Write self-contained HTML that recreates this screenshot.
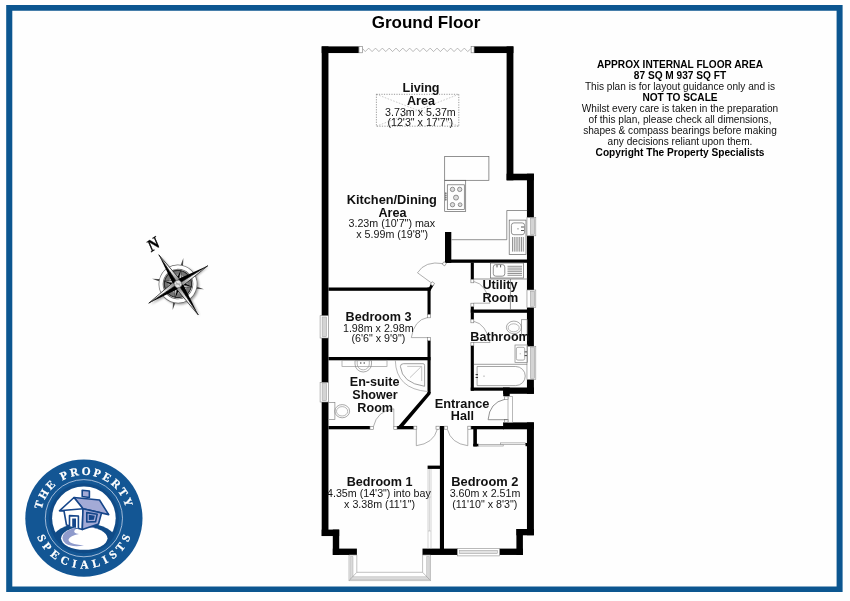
<!DOCTYPE html>
<html><head><meta charset="utf-8">
<style>
html,body{margin:0;padding:0;background:#fff;}
body{width:850px;height:601px;overflow:hidden;}
svg{display:block;}
text{font-family:"Liberation Sans",sans-serif;fill:#111;}
.b{font-weight:bold;font-size:12.6px;text-anchor:middle;}
.d{font-size:10.7px;text-anchor:middle;fill:#151515;}
.n{font-size:10.1px;text-anchor:middle;fill:#111;}
.nb{font-size:10.15px;font-weight:bold;text-anchor:middle;fill:#000;}
.w{fill:#000;}
.t{fill:none;stroke:#646464;stroke-width:0.7;}
.dr .t{stroke:#858585;stroke-width:0.65}
.j{fill:#fff;stroke:#777;stroke-width:0.6;}
.win{fill:#e4e4e4;stroke:#888;stroke-width:0.6;}
</style></head><body>
<svg width="850" height="601" viewBox="0 0 850 601" style="will-change:transform;transform:translateZ(0)">
<rect width="850" height="601" fill="#fefefe"/>
<!-- frame -->
<path fill="#0c5690" fill-rule="evenodd" d="M6.2 5 H842.6 V592 H6.2Z M12.3 10.8 V586.5 H836.6 V10.8Z"/>

<!-- title -->
<text x="426" y="28.3" style="font-weight:bold;font-size:17px;text-anchor:middle;fill:#000">Ground Floor</text>

<!-- WALLS -->
<g class="w" id="walls">
<!-- outer -->
<rect x="321.7" y="46.4" width="6.75" height="489.6"/>
<rect x="321.7" y="46.4" width="37.1" height="6.65"/>
<rect x="474" y="46.4" width="39.4" height="6.65"/>
<rect x="506.6" y="46.4" width="6.8" height="133.9"/>
<rect x="506.6" y="173.7" width="27.3" height="6.6"/>
<rect x="526.95" y="173.7" width="6.95" height="220.1"/>
<rect x="470.75" y="387.5" width="33" height="3.2"/><rect x="503.2" y="387.5" width="30.7" height="6.3"/>
<rect x="503.2" y="387.5" width="6.5" height="8.7"/>
<rect x="503.1" y="422.4" width="30.8" height="6.9"/>
<rect x="526.95" y="422.4" width="6.95" height="112.8"/>
<rect x="516.4" y="529" width="17.5" height="6.3"/>
<rect x="516.4" y="529" width="6.5" height="25.95"/>
<rect x="499.4" y="548.6" width="23.5" height="6.35"/>
<rect x="422.5" y="548.6" width="35" height="6.35"/>
<rect x="321.7" y="529.6" width="17.5" height="6.45"/>
<rect x="332.8" y="529.6" width="6.4" height="25.35"/>
<rect x="332.8" y="548.6" width="24.1" height="6.35"/>
<!-- internal -->
<rect x="445" y="232" width="6.3" height="30.8"/>
<rect x="445" y="259.5" width="82.6" height="3.3"/>
<rect x="470.75" y="262.5" width="3.1" height="17"/>
<rect x="470.75" y="306.5" width="3.1" height="6"/>
<rect x="470.75" y="309.5" width="57" height="3.3"/>
<rect x="470.75" y="312.5" width="3.1" height="7"/>
<rect x="470.75" y="345.5" width="3.1" height="45.2"/>
<rect x="328.5" y="287.5" width="102" height="3.3"/>
<polygon points="427.6,290.5 430.6,290.5 433.8,285 431,283.4"/>
<rect x="427.5" y="287.5" width="3.1" height="27"/>
<rect x="427.5" y="340.5" width="3.1" height="52.5"/>
<rect x="328.5" y="357" width="102" height="3.3"/>
<polygon points="427.5,392 430.6,392 430.6,394 402.3,427.5 397.3,427.5 427.5,392.6"/>
<rect x="328.5" y="426" width="41.5" height="3.3"/>
<rect x="397" y="426" width="16.8" height="3.3"/>
<rect x="439.9" y="426" width="4.1" height="123.2"/>
<rect x="470.9" y="426" width="33" height="3.3"/>
<rect x="427.6" y="465.6" width="13" height="3.3"/>
<rect x="473.3" y="429" width="3.6" height="17.4"/><rect x="473.3" y="443.8" width="5.3" height="2.6"/>
</g>

<!-- bifold door -->
<rect class="j" x="359" y="46.6" width="3.5" height="6.2"/>
<rect class="j" x="471.1" y="46.6" width="3" height="6.2"/>
<polyline id="zig" fill="none" stroke="#999" stroke-width="0.68" stroke-linejoin="miter" points="362.70,48.6 365.25,51.6 368.70,48.1 372.08,51.6 375.53,48.1 378.91,51.6 382.36,48.1 385.74,51.6 389.19,48.1 392.57,51.6 396.02,48.1 399.40,51.6 402.85,48.1 406.23,51.6 409.68,48.1 413.06,51.6 416.51,48.1 419.89,51.6 423.34,48.1 426.72,51.6 430.17,48.1 433.55,51.6 437.00,48.1 440.38,51.6 443.83,48.1 447.21,51.6 450.66,48.1 454.04,51.6 457.49,48.1 460.87,51.6 464.32,48.1 467.70,51.6 470.90,48.6"/>

<!-- skylight dotted -->
<path d="M376.4 94.3 L458.8 126.2 M458.8 94.3 L376.4 126.2" fill="none" stroke="#a8a8a8" stroke-width="0.6" stroke-dasharray="1.6 1.4"/>
<rect x="376.4" y="94.3" width="82.4" height="31.9" fill="none" stroke="#707070" stroke-width="0.7" stroke-dasharray="1.2 1.3"/>

<!-- kitchen island + hob -->
<rect class="t" x="444.7" y="156.4" width="44.2" height="23.9" fill="#fff"/>
<rect class="t" x="444.7" y="180.3" width="21" height="31.1"/>
<rect class="t" x="447.3" y="184.8" width="17" height="24.7"/>
<g fill="#ddd" stroke="#555" stroke-width="0.6">
<circle cx="452.5" cy="189.4" r="2.2"/><circle cx="459.7" cy="189.4" r="2.2"/>
<circle cx="456" cy="197.6" r="2.5"/>
<circle cx="452.5" cy="204.7" r="2.2"/><circle cx="460.1" cy="204.7" r="1.9"/>
</g>
<path class="t" d="M445.8 192 v9 M446.6 193.5h-1.6 M446.6 195.5h-1.6 M446.6 197.5h-1.6 M446.6 199.5h-1.6"/>
<!-- counter L -->
<path class="t" stroke="#8c8c8c" d="M451.5 239.7 H506.8 V210.5 H527.2"/>
<!-- kitchen sink -->
<rect class="t" x="509.2" y="220.1" width="16.8" height="34.3" fill="#fff"/>
<rect class="t" x="511.4" y="222.9" width="13.2" height="11.8" rx="2.5"/>
<path class="t" stroke-width="0.5" d="M512.5 237v14.6 M514.3 237v14.6 M516.1 237v14.6 M517.9 237v14.6 M519.7 237v14.6 M521.5 237v14.6 M523.3 237v14.6"/>
<path d="M521 227h3 M521 230.5h3" stroke="#444" stroke-width="0.9"/>
<circle cx="518" cy="228.8" r="0.6" fill="#555"/>

<!-- utility sink -->
<rect class="t" x="490.5" y="263" width="33" height="15" fill="#fff"/>
<rect class="t" x="493.3" y="264.6" width="11.5" height="11.6" rx="2.5"/>
<path class="t" stroke-width="0.5" d="M507.5 266.3h14.5 M507.5 268.1h14.5 M507.5 269.9h14.5 M507.5 271.7h14.5 M507.5 273.5h14.5 M507.5 275.3h14.5"/>
<path d="M497 265v2.4 M500.6 265v2.4" stroke="#444" stroke-width="0.9"/>
<path class="t" stroke="#8a8a8a" d="M473.8 279 H527.4 M510.4 279 V309.5"/>

<!-- windows -->
<g id="wins">
<rect x="527" y="217.4" width="8.8" height="18.4" fill="#fff" stroke="#8a8a8a" stroke-width="0.6"/><rect x="530.3" y="218.6" width="4.4" height="16.0" fill="#d4d4d4" stroke="#9a9a9a" stroke-width="0.5"/>
<rect x="527" y="290" width="8.8" height="17.5" fill="#fff" stroke="#8a8a8a" stroke-width="0.6"/><rect x="530.3" y="291.2" width="4.4" height="15.1" fill="#d4d4d4" stroke="#9a9a9a" stroke-width="0.5"/>
<rect x="527" y="346.3" width="8.8" height="33.2" fill="#fff" stroke="#8a8a8a" stroke-width="0.6"/><rect x="530.3" y="347.5" width="4.4" height="30.8" fill="#d4d4d4" stroke="#9a9a9a" stroke-width="0.5"/>
<rect x="320.1" y="315.7" width="8.6" height="22.3" fill="#fff" stroke="#8a8a8a" stroke-width="0.6"/><rect x="322.1" y="317.0" width="4.5" height="19.7" fill="#d4d4d4" stroke="#9a9a9a" stroke-width="0.5"/>
<rect x="320.1" y="382.4" width="8.6" height="19.6" fill="#fff" stroke="#8a8a8a" stroke-width="0.6"/><rect x="322.1" y="383.7" width="4.5" height="17.0" fill="#d4d4d4" stroke="#9a9a9a" stroke-width="0.5"/>
<rect x="457.5" y="548.3" width="41.9" height="7.6" fill="#fff" stroke="#8a8a8a" stroke-width="0.6"/>
<rect x="459.6" y="550.3" width="37.8" height="3.4" fill="#e2e2e2" stroke="#9a9a9a" stroke-width="0.5"/>
</g>

<!-- bay window -->
<g stroke="#8f8f8f" stroke-width="0.55">
<path d="M349 555 V580.6 H430.5 V555 H422.6 V572.3 H356.8 V555Z" fill="#fff"/>
<path d="M350.2 556.5 V579.5 H429.4 V556.5 H426.6 V576.7 H353 V556.5Z" fill="#dadada" stroke="#a5a5a5" stroke-width="0.45"/>
<path d="M349 580.6 L356.8 572.3 M430.5 580.6 L422.6 572.3" fill="none"/>
</g>
<!-- wardrobe bed1 -->
<g fill="none" stroke="#aaa" stroke-width="0.5">
<path d="M428 469 V549 M431 469 V549"/>
<path d="M429.4 469 V492 M429.4 497 V531"/>
<path d="M428 492 h2.8 M428 497h2.8 M428 531h2.8"/>
</g>
<!-- closet bed2 -->
<g fill="#fff" stroke="#888" stroke-width="0.6">
<rect x="478.7" y="444.3" width="24.5" height="1.7"/>
<rect x="500.6" y="442.9" width="25" height="1.7"/>
</g>
<rect x="525.5" y="443" width="2" height="3.2" fill="#000"/>

<!-- front door -->
<rect x="508" y="396.3" width="4.4" height="26.1" fill="#fff" stroke="#8a8a8a" stroke-width="0.6"/>
<rect class="j" x="504.6" y="396.8" width="3.4" height="2.6"/>
<rect class="j" x="504.6" y="419.6" width="3.4" height="2.6"/>
<path class="t" d="M507.4 419.7 H488.1 Q489.5 402.5 504.8 399.3"/>

<!-- doors -->
<g id="doors" class="dr">
<!-- kitchen -->
<path class="t" d="M432.3 283.6 L417.5 272.8 Q425 260.5 443.3 263.6"/>
<rect class="j" x="-1.5" y="-1.5" width="3" height="3" transform="translate(444.3,263.8) rotate(35)"/>
<rect class="j" x="-1.5" y="-1.5" width="3" height="3" transform="translate(432.5,283.8) rotate(35)"/>
<!-- utility -->
<rect class="j" x="470.9" y="279.6" width="2.9" height="3.2"/>
<rect class="j" x="470.9" y="303.2" width="2.9" height="3.2"/>
<path class="t" d="M473.8 303.2 H490 M473.8 281.5 Q486 284 490 303.2"/>
<!-- bathroom -->
<rect class="j" x="470.9" y="319.6" width="2.9" height="3.2"/>
<rect class="j" x="470.9" y="342.5" width="2.9" height="3.2"/>
<path class="t" d="M473.8 342.5 H490 M473.8 321.3 Q486 324 490 342.5"/>
<!-- bed3 -->
<rect class="j" x="427.6" y="314.6" width="2.9" height="3.2"/>
<rect class="j" x="427.6" y="337.5" width="2.9" height="3.2"/>
<path class="t" d="M427.6 337.6 H411.3 M427.6 317.5 Q414 320 411.3 337.6"/>
<!-- ensuite -->
<rect class="j" x="370" y="426.4" width="3.4" height="3"/>
<rect class="j" x="393.8" y="426.4" width="3.2" height="3"/>
<path class="t" d="M393.8 426.4 V408.8 M393.8 408.8 Q377 411 373.5 426.4"/>
<!-- bed1 -->
<rect class="j" x="413.8" y="426.2" width="3" height="3"/>
<rect class="j" x="436" y="426.2" width="3.4" height="3"/>
<path class="t" d="M416.3 429.3 V445.7 Q433.5 443.5 437.3 429.3"/>
<!-- bed2 -->
<rect class="j" x="444.2" y="426.2" width="3.2" height="3"/>
<rect class="j" x="467.8" y="426.2" width="3.1" height="3"/>
<path class="t" d="M467.8 429.3 V445.7 Q451 443.5 447.4 429.3"/>
</g>

<!-- bathroom fixtures -->
<g class="t" fill="#fff" style="stroke:#858585">
<rect x="521.4" y="319.7" width="5.8" height="15"/>
<ellipse cx="513.9" cy="327.4" rx="7.5" ry="6.3"/>
<ellipse cx="513.7" cy="327.8" rx="5.5" ry="4" stroke="#999"/>
<rect x="515" y="345" width="12.6" height="17.5"/>
<rect x="516.3" y="347.3" width="8.4" height="12.8" rx="1.6" stroke="#888"/>
<path d="M473.85 364.3 H527.2" fill="none" stroke="#777"/>
<path d="M477.1 366.5 H515.7 A9.55 9.55 0 0 1 515.7 385.6 H477.1 Z" stroke="#808080"/>
</g>
<path d="M475.6 374.6h2.4 M475.6 377.5h2.4" stroke="#333" stroke-width="1"/>
<circle cx="484" cy="376.1" r="0.6" fill="#888"/>
<path d="M524.6 351.9h2.4 M524.6 355.6h2.4" stroke="#333" stroke-width="0.9"/><circle cx="520.2" cy="353.8" r="0.5" fill="#888"/>

<!-- ensuite fixtures -->
<g class="t" fill="#fff" style="stroke:#858585">
<rect x="342" y="360.3" width="45" height="6.2" stroke="#999"/>
<path d="M355 360.6 V364 A8.25 8 0 0 0 371.5 364 V360.6 Z"/>
<path d="M357.2 361 V364 A6 5.8 0 0 0 369.3 364 V361" stroke="#999"/>
<path d="M395.3 360.3 Q396 389 428 391.6" stroke="#999" fill="none"/>
<path d="M403.5 363.7 H423 Q424.6 363.7 424.6 365.3 V386.3 Q402 383 400.4 366.5 Q400.4 363.7 403.5 363.7 Z" stroke="#777"/>
<path d="M407.2 366.4 H421.7 V381 M420.8 367 L410 377.6" stroke="#aaa" fill="none"/>
<rect x="328.6" y="402.4" width="6.3" height="17.2"/>
<ellipse cx="342.2" cy="411.2" rx="7.4" ry="6.6"/>
<ellipse cx="342.1" cy="411.3" rx="5.6" ry="4.7" stroke="#999"/>
</g>
<path d="M360.8 362v2 M364.2 362v2" stroke="#444" stroke-width="0.8"/>

<!-- LABELS -->
<text class="b" x="421" y="91.5">Living</text>
<text class="b" x="421" y="104.5">Area</text>
<text class="d" x="420.4" y="115.7">3.73m x 5.37m</text>
<text class="d" x="420.3" y="126">(12'3" x 17'7")</text>

<text class="b" x="391.8" y="204.2" style="font-size:12.8px">Kitchen/Dining</text>
<text class="b" x="392.5" y="216.5">Area</text>
<text class="d" x="391.8" y="227.4">3.23m (10'7") max</text>
<text class="d" x="392.2" y="238.1">x 5.99m (19'8")</text>

<text class="b" x="499.9" y="289.2">Utility</text>
<text class="b" x="500.3" y="301.8">Room</text>

<text class="b" x="378.5" y="320.7">Bedroom 3</text>
<text class="d" x="378.3" y="332.2">1.98m x 2.98m</text>
<text class="d" x="378.4" y="342">(6'6" x 9'9")</text>

<text class="b" x="500.1" y="340.9">Bathroom</text>

<text class="b" x="374.6" y="385.8">En-suite</text>
<text class="b" x="375" y="398.7">Shower</text>
<text class="b" x="375.2" y="411.5">Room</text>

<text class="b" x="462.1" y="407.6" style="font-size:12.8px">Entrance</text>
<text class="b" x="462.4" y="420">Hall</text>

<text class="b" x="379.6" y="486">Bedroom 1</text>
<text class="d" x="378.9" y="496.8">4.35m (14'3") into bay</text>
<text class="d" x="379.6" y="508">x 3.38m (11'1")</text>

<text class="b" x="484.9" y="486.2" style="font-size:12.85px">Bedroom 2</text>
<text class="d" x="485" y="496.8">3.60m x 2.51m</text>
<text class="d" x="484.8" y="507.5">(11'10" x 8'3")</text>

<!-- NOTES -->
<g>
<text class="nb" x="680" y="67.7">APPROX INTERNAL FLOOR AREA</text>
<text class="nb" x="680" y="78.7">87 SQ M 937 SQ FT</text>
<text class="n" x="680" y="89.7">This plan is for layout guidance only and is</text>
<text class="nb" x="680" y="100.7">NOT TO SCALE</text>
<text class="n" x="680" y="111.7">Whilst every care is taken in the preparation</text>
<text class="n" x="680" y="122.7">of this plan, please check all dimensions,</text>
<text class="n" x="680" y="133.7">shapes &amp; compass bearings before making</text>
<text class="n" x="680" y="144.7">any decisions reliant upon them.</text>
<text class="nb" x="680" y="155.7">Copyright The Property Specialists</text>
</g>


<defs>
<filter id="sh" x="-30%" y="-30%" width="160%" height="160%"><feGaussianBlur stdDeviation="1"/></filter>
<linearGradient id="gp" x1="0" y1="0" x2="0" y2="1"><stop offset="0" stop-color="#fff"/><stop offset="0.55" stop-color="#f2f2f2"/><stop offset="1" stop-color="#707070"/></linearGradient>
</defs>
<!-- COMPASS -->
<g id="compass" transform="translate(178,284) rotate(-33.3)">
 <g opacity="0.4" filter="url(#sh)" transform="translate(0.6,2)">
  <circle r="17" fill="none" stroke="#000" stroke-width="4.4"/>
  <path d="M0 -35 L3.6 -3.6 L35 0 L3.6 3.6 L0 37 L-3.6 3.6 L-35 0 L-3.6 -3.6Z" fill="#000"/>
 </g>
 <!-- minor outer points -->
 <g fill="#4a4a4a">
  <path d="M0 -26.5 L1.8 -15 L-1.8 -15Z" transform="rotate(45)"/>
  <path d="M0 -26.5 L1.8 -15 L-1.8 -15Z" transform="rotate(135)"/>
  <path d="M0 -26.5 L1.8 -15 L-1.8 -15Z" transform="rotate(225)"/>
  <path d="M0 -26.5 L1.8 -15 L-1.8 -15Z" transform="rotate(315)"/>
 </g>
 <!-- ring -->
 <circle r="17" fill="none" stroke="#6a6a6a" stroke-width="4.8"/>
 <circle r="17" fill="none" stroke="#fff" stroke-width="3.4"/>
 <circle r="13.6" fill="#747474" stroke="#2a2a2a" stroke-width="1.1"/>
 <circle r="9" fill="none" stroke="#d0d0d0" stroke-width="0.7"/>
 <!-- inner intercardinal star -->
 <g>
  <g transform="rotate(45)"><path d="M0 -14 L0 0 L-3 -3Z" fill="#000"/><path d="M0 -14 L0 0 L3 -3Z" fill="#e6e6e6" stroke="#000" stroke-width="0.4"/></g>
  <g transform="rotate(135)"><path d="M0 -14 L0 0 L-3 -3Z" fill="#000"/><path d="M0 -14 L0 0 L3 -3Z" fill="#e6e6e6" stroke="#000" stroke-width="0.4"/></g>
  <g transform="rotate(225)"><path d="M0 -14 L0 0 L-3 -3Z" fill="#000"/><path d="M0 -14 L0 0 L3 -3Z" fill="#e6e6e6" stroke="#000" stroke-width="0.4"/></g>
  <g transform="rotate(315)"><path d="M0 -14 L0 0 L-3 -3Z" fill="#000"/><path d="M0 -14 L0 0 L3 -3Z" fill="#e6e6e6" stroke="#000" stroke-width="0.4"/></g>
 </g>
 <!-- main points: N,E,S,W -->
 <g>
  <path d="M0 -35 L0 0 L-4 -4Z" fill="#000"/>
  <path d="M0 -35 L0 0 L4 -4Z" fill="url(#gp)" stroke="#000" stroke-width="0.6"/>
  <g transform="rotate(91.8)"><path d="M0 -35 L0 0 L-4 -4Z" fill="#000"/><path d="M0 -35 L0 0 L4 -4Z" fill="url(#gp)" stroke="#000" stroke-width="0.6"/></g>
  <g transform="rotate(180)"><path d="M0 -37 L0 0 L-4 -4Z" fill="#000"/><path d="M0 -37 L0 0 L4 -4Z" fill="url(#gp)" stroke="#000" stroke-width="0.6"/></g>
  <g transform="rotate(270)"><path d="M0 -35 L0 0 L-4 -4Z" fill="#000"/><path d="M0 -35 L0 0 L4 -4Z" fill="url(#gp)" stroke="#000" stroke-width="0.6"/></g>
 </g>
 <circle r="3.8" fill="#e4e4e4" stroke="#555" stroke-width="0.6"/>
 <path d="M-2.5 0 A1.3 1.3 0 0 1 0 0 A1.3 1.3 0 0 0 2.5 0 M0 -2.5 A1.3 1.3 0 0 0 0 0 A1.3 1.3 0 0 1 0 2.5" fill="none" stroke="#888" stroke-width="0.5"/>
 <text x="1.2" y="-41.2" style="font-family:'Liberation Serif',serif;font-weight:bold;font-style:italic;font-size:17px;text-anchor:middle;fill:#000;stroke:#000;stroke-width:0.3">N</text>
</g>

<!-- LOGO -->
<g id="logo">
 <circle cx="83.9" cy="518.2" r="58.6" fill="#135694"/>
 <circle cx="83.9" cy="518.2" r="38.6" fill="none" stroke="#c5d3e8" stroke-width="0.8"/>
 <circle cx="83.9" cy="518.2" r="35" fill="#104b87"/>
 <circle cx="83.9" cy="518.2" r="31.8" fill="#fff"/>
 <clipPath id="lc"><circle cx="83.9" cy="518.2" r="35"/></clipPath>
 <g clip-path="url(#lc)">
  <ellipse cx="84" cy="542" rx="33" ry="19" fill="#104b87"/>
  <ellipse cx="84.3" cy="538.3" rx="23.2" ry="11.5" fill="#fff"/>
  <path d="M100.5 530 Q92 526.6 83 527.6 Q76 528.2 74.5 530.5 Q73 533 79 534 Q70 535.5 68.5 539.5 Q68 544 84 545.5 Q72 547.5 65.5 543.5 Q59.5 538 65 532.5 Q72 527 84 526.6 Q94 526.6 100.5 530Z" fill="#8f9bcc"/>
 </g>
 <!-- house -->
 <g stroke="#16468a" stroke-width="1.6" stroke-linejoin="round">
  <path d="M82.2 496.5 V490.3 L89.4 491 V497.5Z" fill="#a3aad6"/>
  <path d="M74 497.5 L99.5 500 L108.7 514.6 L83 508.7Z" fill="#a3aad6"/>
  <path d="M74 497.5 L59.5 510.8 L64 511 L66.5 525 L82.3 529.5 L83 508.7Z" fill="#fff"/>
  <path d="M83 508.7 L82.3 529.5 L98.5 524 L101.5 513Z" fill="#a3aad6"/>
  <path d="M59.5 510.8 L83 508.7" fill="none"/>
  <path d="M69.5 526 V515.6 L78.4 516 V528.5" fill="#fff"/>
  <path d="M72.2 526.7 V518.4 L76 518.6 V527.8Z" fill="#16468a" stroke="none"/>
  <path d="M86.8 512.6 L97.2 514.2 L95.6 521.6 L86.8 522Z" fill="#a3aad6"/>
  <path d="M88.8 514.8 L94.8 515.8 L93.8 519.8 L88.8 520Z" fill="#16468a" stroke="none"/>
 </g>
 <path id="tp1" d="M 40.7 518.2 A 43.2 43.2 0 0 1 127.1 518.2" fill="none"/>
 <path id="tp2" d="M 33.6 518.2 A 50.3 50.3 0 0 0 134.2 518.2" fill="none"/>
 <text style="font-family:'Liberation Serif',serif;font-weight:bold;font-size:11.5px;fill:#fff;stroke:#fff;stroke-width:0.25"><textPath href="#tp1" startOffset="49.2%" text-anchor="middle" textLength="116" lengthAdjust="spacing">THE PROPERTY</textPath></text>
 <text style="font-family:'Liberation Serif',serif;font-weight:bold;font-size:11.5px;fill:#fff;stroke:#fff;stroke-width:0.25"><textPath href="#tp2" startOffset="50%" text-anchor="middle" textLength="120" lengthAdjust="spacing">SPECIALISTS</textPath></text>
</g>

</svg>
</body></html>
